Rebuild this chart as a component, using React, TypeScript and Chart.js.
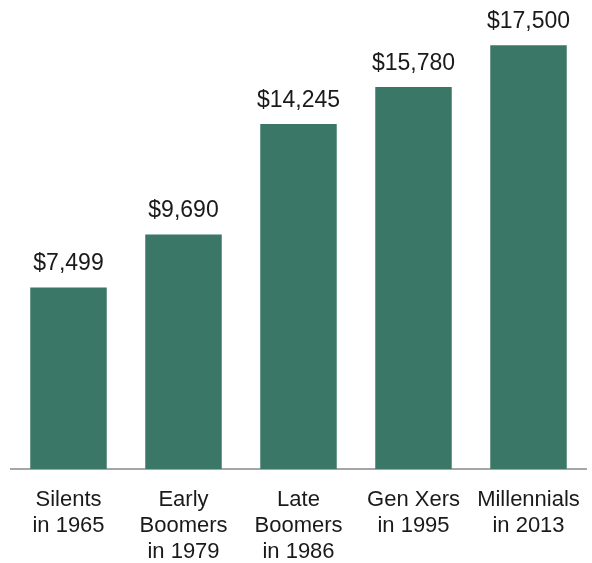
import React, { useEffect, useRef } from "react";
import { Chart, registerables } from "chart.js";

Chart.register(...registerables);

const categories: string[][] = [
  ["Silents", "in 1965"],
  ["Early", "Boomers", "in 1979"],
  ["Late", "Boomers", "in 1986"],
  ["Gen Xers", "in 1995"],
  ["Millennials", "in 2013"],
];
const values: number[] = [7499, 9690, 14245, 15780, 17500];
const valueLabels: string[] = ["$7,499", "$9,690", "$14,245", "$15,780", "$17,500"];

const FONT = "'Liberation Sans', Arial, sans-serif";

const valueLabelPlugin = {
  id: "valueLabels",
  afterDatasetsDraw(chart: any) {
    const { ctx } = chart;
    const meta = chart.getDatasetMeta(0);
    ctx.save();
    ctx.font = `23px ${FONT}`;
    ctx.fillStyle = "#1a1a1a";
    ctx.textAlign = "center";
    ctx.textBaseline = "alphabetic";
    meta.data.forEach((bar: any, i: number) => {
      ctx.fillText(valueLabels[i], bar.x, bar.y - 17);
    });
    ctx.restore();
  },
};

export default function App() {
  const ref = useRef<HTMLCanvasElement>(null);
  useEffect(() => {
    document.body.style.margin = "0";
    const chart = new Chart(ref.current!, {
      type: "bar",
      data: {
        labels: categories,
        datasets: [
          {
            data: values,
            backgroundColor: "#3a7767",
            barPercentage: 0.665,
            categoryPercentage: 1,
          },
        ],
      },
      options: {
        responsive: false,
        animation: false,
        layout: { padding: { left: 11, right: 6, top: 9, bottom: -12 } },
        plugins: { legend: { display: false }, tooltip: { enabled: false } },
        scales: {
          y: { display: false, min: 0, max: 19000 },
          x: {
            grid: { display: false },
            border: { display: true, color: "#a6a6a6", width: 2 },
            ticks: {
              font: { family: FONT, size: 22, lineHeight: "26px" },
              color: "#1a1a1a",
              padding: 10,
              maxRotation: 0,
              autoSkip: false,
            },
          },
        },
      },
      plugins: [valueLabelPlugin],
    });
    return () => chart.destroy();
  }, []);
  return <canvas ref={ref} width={592} height={563} style={{ display: "block" }} />;
}
